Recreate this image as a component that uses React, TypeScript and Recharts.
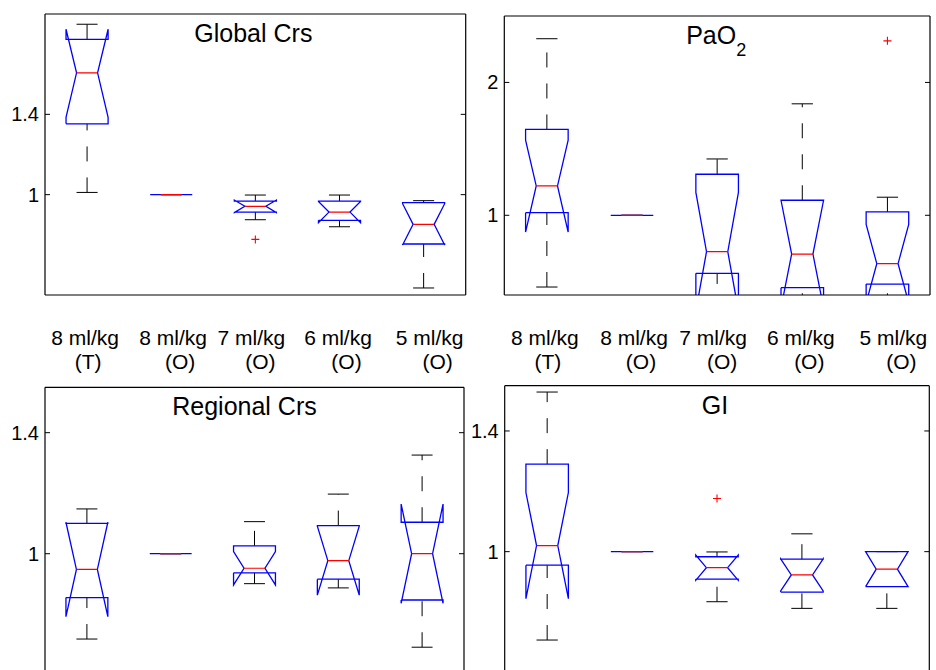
import React from 'react';
import { ComposedChart, Line, Scatter, XAxis, YAxis, Customized } from 'recharts';

// ---------- categories ----------
const GROUP_LINE1 = ['8 ml/kg', '8 ml/kg', '7 ml/kg', '6 ml/kg', '5 ml/kg'];
const GROUP_LINE2 = ['(T)', '(O)', '(O)', '(O)', '(O)'];
const POSITIONS = [1, 2, 3, 4, 5];

// ---------- box statistics ----------
// each row: [lower whisker, Q1, notch low, median, notch high, Q3, upper whisker]
const globalCrs = [
  [1.011, 1.353, 1.385, 1.607, 1.824, 1.774, 1.849],
  [1, 1, 1, 1, 1, 1, 1],
  [0.875, 0.913, 0.911, 0.942, 0.973, 0.968, 0.998],
  [0.84, 0.872, 0.86, 0.913, 0.966, 0.968, 0.998],
  [0.535, 0.754, 0.749, 0.852, 0.955, 0.96, 0.97],
];
const globalCrsOutliers = [[3, 0.777]];

const paO2 = [
  [0.46, 1.02, 0.874, 1.221, 1.566, 1.646, 2.329],
  [1, 1, 1, 1, 1, 1, 1],
  [0.25, 0.563, 0.28, 0.726, 1.172, 1.309, 1.424],
  [0.3, 0.455, 0.303, 0.708, 1.113, 1.113, 1.839],
  [0.3, 0.482, 0.34, 0.636, 0.932, 1.025, 1.136],
];
const paO2Outliers = [[5, 2.313]];

const regionalCrs = [
  [0.718, 0.855, 0.792, 0.948, 1.104, 1.1, 1.148],
  [1, 1, 1, 1, 1, 1, 1],
  [0.901, 0.937, 0.897, 0.952, 1.007, 1.026, 1.106],
  [0.887, 0.916, 0.863, 0.977, 1.091, 1.093, 1.197],
  [0.691, 0.847, 0.836, 1.0, 1.164, 1.104, 1.326],
];
const regionalCrsOutliers: number[][] = [];

const gi = [
  [0.707, 0.955, 0.844, 1.02, 1.196, 1.29, 1.529],
  [1, 1, 1, 1, 1, 1, 1],
  [0.834, 0.909, 0.905, 0.947, 0.989, 0.983, 0.999],
  [0.812, 0.866, 0.87, 0.923, 0.976, 0.975, 1.059],
  [0.812, 0.884, 0.884, 0.942, 1.0, 1.0, 1.0],
];
const giOutliers = [[3, 1.176]];

// ---------- tick labels ----------
const TICKS_CRS = [1, 1.4];
const TICKS_PAO2 = [1, 2];

// ---------- styling ----------
const FONT = '"Liberation Sans", Arial, Helvetica, sans-serif';
const BLUE = '#0000ff';
const RED = '#ff0000';
const BLACK = '#000000';
const BOX_HALF = 0.25;
const NOTCH_HALF = 0.125;
const CAP_HALF = 0.125;
const LINE1_DX = [-2, 2, -4, -1.5, 6];
const LINE2_DX = [1, 9, 5, 7, 14];

type Pt = { x: number; y: number | null };

function outlinePoints(stats: number[][]): Pt[] {
  const pts: Pt[] = [];
  stats.forEach((s, i) => {
    const x = POSITIONS[i];
    const [, q1, nlo, med, nhi, q3] = s;
    pts.push(
      { x: x - BOX_HALF, y: q1 },
      { x: x - BOX_HALF, y: nlo },
      { x: x - NOTCH_HALF, y: med },
      { x: x - BOX_HALF, y: nhi },
      { x: x - BOX_HALF, y: q3 },
      { x: x + BOX_HALF, y: q3 },
      { x: x + BOX_HALF, y: nhi },
      { x: x + NOTCH_HALF, y: med },
      { x: x + BOX_HALF, y: nlo },
      { x: x + BOX_HALF, y: q1 },
      { x: x - BOX_HALF, y: q1 },
      { x: x, y: null }
    );
  });
  return pts;
}

function medianPoints(stats: number[][]): Pt[] {
  const pts: Pt[] = [];
  stats.forEach((s, i) => {
    const x = POSITIONS[i];
    pts.push({ x: x - NOTCH_HALF, y: s[3] }, { x: x + NOTCH_HALF, y: s[3] }, { x, y: null });
  });
  return pts;
}

function whiskerPoints(stats: number[][]): Pt[] {
  const pts: Pt[] = [];
  stats.forEach((s, i) => {
    const x = POSITIONS[i];
    const [lo, q1, , , , q3, hi] = s;
    pts.push({ x, y: q3 }, { x, y: hi }, { x, y: null });
    pts.push({ x, y: lo }, { x, y: q1 }, { x, y: null });
  });
  return pts;
}

function capPoints(stats: number[][]): Pt[] {
  const pts: Pt[] = [];
  stats.forEach((s, i) => {
    const x = POSITIONS[i];
    pts.push({ x: x - CAP_HALF, y: s[6] }, { x: x + CAP_HALF, y: s[6] }, { x, y: null });
    pts.push({ x: x - CAP_HALF, y: s[0] }, { x: x + CAP_HALF, y: s[0] }, { x, y: null });
  });
  return pts;
}

function outlierPoints(out: number[][]) {
  return out.map(([pos, v]) => ({ x: pos, y: v }));
}

const LeftTick = (props: any) => {
  const { x, y, payload } = props;
  return (
    <g>
      <line x1={x} x2={x + 5} y1={y} y2={y} stroke={BLACK} strokeWidth={1} />
      <text x={x - 6} y={y} dy="0.35em" textAnchor="end" fontSize={20} fontFamily={FONT} fill={BLACK}>
        {String(payload.value)}
      </text>
    </g>
  );
};

const RightTick = (props: any) => {
  const { x, y } = props;
  return <line x1={x - 5} x2={x} y1={y} y2={y} stroke={BLACK} strokeWidth={1} />;
};

const XTick = (props: any) => {
  const { x, y, payload } = props;
  const i = POSITIONS.indexOf(payload.value);
  if (i < 0) return null;
  return (
    <g>
      <text x={x + LINE1_DX[i]} y={y + 50} textAnchor="middle" fontSize={21} fontFamily={FONT} fill={BLACK}>
        {GROUP_LINE1[i]}
      </text>
      <text x={x + LINE2_DX[i]} y={y + 74} textAnchor="middle" fontSize={21} fontFamily={FONT} fill={BLACK}>
        {GROUP_LINE2[i]}
      </text>
    </g>
  );
};

const PlusShape = (props: any) => {
  const { cx, cy } = props;
  if (cx == null || cy == null) return null;
  return (
    <g>
      <line x1={cx - 4} x2={cx + 4} y1={cy} y2={cy} stroke={RED} strokeWidth={1.1} />
      <line x1={cx} x2={cx} y1={cy - 4} y2={cy + 4} stroke={RED} strokeWidth={1.1} />
    </g>
  );
};

type PanelProps = {
  left: number;
  top: number;
  width: number;
  height: number;
  plotTop: number;
  plotBottom: number;
  plotLeft: number;
  plotRight: number;
  domain: [number, number];
  ticks: number[];
  stats: number[][];
  outliers: number[][];
  title: React.ReactNode;
  titleDx: number;
  showXLabels: boolean;
};

const AX = 1; // thickness reserved for the frame axes

function Panel(p: PanelProps) {
  const margin = {
    top: p.plotTop - AX,
    bottom: p.height - p.plotBottom - AX,
    left: 0,
    right: p.width - p.plotRight - AX,
  };
  const titleX = (p.plotLeft + p.plotRight) / 2 + p.titleDx;
  const titleY = p.plotTop + 27.8;
  const Title = () => (
    <text x={titleX} y={titleY} textAnchor="middle" fontSize={25} fontFamily={FONT} fill={BLACK}>
      {p.title}
    </text>
  );
  return (
    <div style={{ position: 'absolute', left: p.left, top: p.top }}>
      <ComposedChart width={p.width} height={p.height} margin={margin}>
        <XAxis
          xAxisId={0}
          dataKey="x"
          type="number"
          domain={[0.5, 5.5]}
          ticks={POSITIONS}
          interval={0}
          height={AX}
          tickSize={0}
          tickMargin={0}
          tickLine={false}
          tick={p.showXLabels ? <XTick /> : false}
          stroke={BLACK}
          axisLine={{ stroke: BLACK, strokeWidth: 1.2 }}
          allowDataOverflow
        />
        <XAxis
          xAxisId="top"
          orientation="top"
          dataKey="x"
          type="number"
          domain={[0.5, 5.5]}
          ticks={POSITIONS}
          height={AX}
          tick={false}
          tickLine={false}
          stroke={BLACK}
          axisLine={{ stroke: BLACK, strokeWidth: 1.2 }}
        />
        <YAxis
          yAxisId={0}
          type="number"
          domain={p.domain}
          ticks={p.ticks}
          interval={0}
          width={p.plotLeft}
          tickSize={0}
          tickMargin={0}
          tickLine={false}
          tick={<LeftTick />}
          stroke={BLACK}
          axisLine={{ stroke: BLACK, strokeWidth: 1.2 }}
          allowDataOverflow
        />
        <YAxis
          yAxisId="right"
          orientation="right"
          type="number"
          domain={p.domain}
          ticks={p.ticks}
          interval={0}
          width={AX}
          tickSize={0}
          tickMargin={0}
          tickLine={false}
          tick={<RightTick />}
          stroke={BLACK}
          axisLine={{ stroke: BLACK, strokeWidth: 1.2 }}
          allowDataOverflow
        />
        <Line
          data={whiskerPoints(p.stats)}
          dataKey="y"
          type="linear"
          stroke={BLACK}
          strokeWidth={1}
          strokeDasharray="15 16"
          dot={false}
          activeDot={false}
          isAnimationActive={false}
          connectNulls={false}
        />
        <Line
          data={capPoints(p.stats)}
          dataKey="y"
          type="linear"
          stroke={BLACK}
          strokeWidth={1}
          dot={false}
          activeDot={false}
          isAnimationActive={false}
          connectNulls={false}
        />
        <Line
          data={outlinePoints(p.stats)}
          dataKey="y"
          type="linear"
          stroke={BLUE}
          strokeWidth={1.3}
          dot={false}
          activeDot={false}
          isAnimationActive={false}
          connectNulls={false}
        />
        <Line
          data={medianPoints(p.stats)}
          dataKey="y"
          type="linear"
          stroke={RED}
          strokeWidth={1.2}
          dot={false}
          activeDot={false}
          isAnimationActive={false}
          connectNulls={false}
        />
        <Scatter data={outlierPoints(p.outliers)} dataKey="y" shape={<PlusShape />} isAnimationActive={false} />
        <Customized component={Title} />
      </ComposedChart>
    </div>
  );
}

export default function App() {
  return (
    <div
      style={{
        position: 'fixed',
        left: 0,
        top: 0,
        width: 936,
        height: 670,
        overflow: 'hidden',
        background: '#ffffff',
        fontFamily: FONT,
      }}
    >
      <Panel
        left={0}
        top={0}
        width={470}
        height={380}
        plotTop={14}
        plotBottom={295}
        plotLeft={45}
        plotRight={465.7}
        domain={[0.5, 1.9]}
        ticks={TICKS_CRS}
        stats={globalCrs}
        outliers={globalCrsOutliers}
        title="Global Crs"
        titleDx={-2}
        showXLabels
      />
      <Panel
        left={470}
        top={0}
        width={466}
        height={380}
        plotTop={16}
        plotBottom={295}
        plotLeft={34.3}
        plotRight={460}
        domain={[0.4, 2.5]}
        ticks={TICKS_PAO2}
        stats={paO2}
        outliers={paO2Outliers}
        title={
          <>
            PaO
            <tspan dy={12} fontSize={18}>
              2
            </tspan>
          </>
        }
        titleDx={-1}
        showXLabels
      />
      <Panel
        left={0}
        top={380}
        width={470}
        height={340}
        plotTop={7.3}
        plotBottom={325}
        plotLeft={45}
        plotRight={464}
        domain={[0.5, 1.55]}
        ticks={TICKS_CRS}
        stats={regionalCrs}
        outliers={regionalCrsOutliers}
        title="Regional Crs"
        titleDx={-10}
        showXLabels={false}
      />
      <Panel
        left={470}
        top={380}
        width={466}
        height={340}
        plotTop={5.7}
        plotBottom={322.5}
        plotLeft={34.7}
        plotRight={459.3}
        domain={[0.5, 1.55]}
        ticks={TICKS_CRS}
        stats={gi}
        outliers={giOutliers}
        title="GI"
        titleDx={-2}
        showXLabels={false}
      />
    </div>
  );
}
